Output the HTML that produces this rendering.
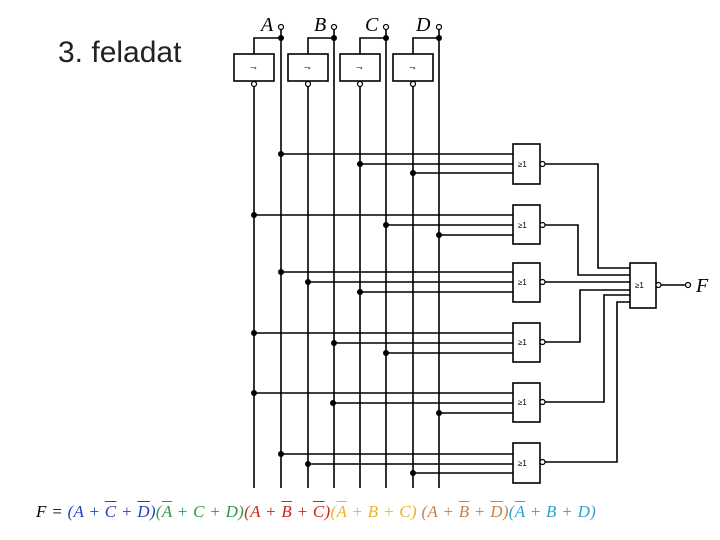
<!DOCTYPE html>
<html><head><meta charset="utf-8"><style>
body{margin:0;width:720px;height:540px;background:#fff;overflow:hidden;position:relative}
.t{position:absolute;left:58px;top:36px;font:30px "Liberation Sans",sans-serif;color:#222}
.eq{position:absolute;left:36px;top:502px;font:italic 17px "Liberation Serif",serif;white-space:nowrap;letter-spacing:0.3px}
.o{text-decoration:overline}
</style></head><body>
<div class="t">3. feladat</div>
<svg width="720" height="540" style="position:absolute;left:0;top:0" font-family="Liberation Serif,serif">
<g stroke="#000" stroke-width="1.6" fill="none">
<!-- inverters -->
<rect x="234" y="54" width="40" height="27"/><rect x="288" y="54" width="40" height="27"/>
<rect x="340" y="54" width="40" height="27"/><rect x="393" y="54" width="40" height="27"/>
<path d="M254 54V38H281M308 54V38H334M360 54V38H386M413 54V38H439"/>
<!-- verticals -->
<path d="M254 87V488M281 30V488M308 87V488M334 30V488M360 87V488M386 30V488M413 87V488M439 30V488"/>
<!-- gate inputs -->
<path d="M281 154H513M360 164H513M413 173H513
M254 215H513M386 225H513M439 235H513
M281 272H513M308 282H513M360 292H513
M254 333H513M334 343H513M386 353H513
M254 393H513M333 403H513M439 413H513
M281 454H513M308 464H513M413 473H513"/>
<!-- gates -->
<rect x="513" y="144" width="27" height="40"/><rect x="513" y="205" width="27" height="39"/>
<rect x="513" y="263" width="27" height="39"/><rect x="513" y="323" width="27" height="39"/>
<rect x="513" y="383" width="27" height="39"/><rect x="513" y="443" width="27" height="40"/>
<rect x="630" y="263" width="26" height="45"/>
<!-- outputs -->
<path d="M545 164H598V268H630M545 225H578V275H630M545 282H630M545 342H580V290H630M545 402H604V295H630M545 462H617V302H630M661 285H686"/>
</g>
<g stroke="#000" stroke-width="1.2" fill="#fff">
<circle cx="281" cy="27" r="2.5"/><circle cx="334" cy="27" r="2.5"/><circle cx="386" cy="27" r="2.5"/><circle cx="439" cy="27" r="2.5"/>
<circle cx="254" cy="84" r="2.5"/><circle cx="308" cy="84" r="2.5"/><circle cx="360" cy="84" r="2.5"/><circle cx="413" cy="84" r="2.5"/>
<circle cx="542.5" cy="164" r="2.5"/><circle cx="542.5" cy="225" r="2.5"/><circle cx="542.5" cy="282" r="2.5"/>
<circle cx="542.5" cy="342" r="2.5"/><circle cx="542.5" cy="402" r="2.5"/><circle cx="542.5" cy="462" r="2.5"/>
<circle cx="658.5" cy="285" r="2.5"/><circle cx="688" cy="285" r="2.5"/>
</g>
<g fill="#000">
<circle cx="281" cy="38" r="3"/><circle cx="334" cy="38" r="3"/><circle cx="386" cy="38" r="3"/><circle cx="439" cy="38" r="3"/>
<circle cx="281" cy="154" r="3"/><circle cx="360" cy="164" r="3"/><circle cx="413" cy="173" r="3"/>
<circle cx="254" cy="215" r="3"/><circle cx="386" cy="225" r="3"/><circle cx="439" cy="235" r="3"/>
<circle cx="281" cy="272" r="3"/><circle cx="308" cy="282" r="3"/><circle cx="360" cy="292" r="3"/>
<circle cx="254" cy="333" r="3"/><circle cx="334" cy="343" r="3"/><circle cx="386" cy="353" r="3"/>
<circle cx="254" cy="393" r="3"/><circle cx="333" cy="403" r="3"/><circle cx="439" cy="413" r="3"/>
<circle cx="281" cy="454" r="3"/><circle cx="308" cy="464" r="3"/><circle cx="413" cy="473" r="3"/>
</g>
<g font-size="20" font-style="italic">
<text x="261" y="31">A</text><text x="314" y="31">B</text><text x="365" y="31">C</text><text x="416" y="31">D</text>
<text x="696" y="292">F</text>
</g>
<g font-family="Liberation Sans,sans-serif" font-size="8">
<text x="250" y="70">⇁</text><text x="304" y="70">⇁</text><text x="356" y="70">⇁</text><text x="409" y="70">⇁</text>
<text x="518" y="167">≥1</text><text x="518" y="228">≥1</text><text x="518" y="285">≥1</text>
<text x="518" y="345">≥1</text><text x="518" y="405">≥1</text><text x="518" y="466">≥1</text>
<text x="635" y="288">≥1</text>
</g>
</svg>
<div class="eq">F = <span style="color:#2a40c0">(A + <span class="o">C</span> + <span class="o">D</span>)</span><span style="color:#2a9a40">(<span class="o">A</span> + C + D)</span><span style="color:#d02020">(A + <span class="o">B</span> + <span class="o">C</span>)</span><span style="color:#e8b428">(<span class="o">A</span> + B + C)</span> <span style="color:#c8804a">(A + <span class="o">B</span> + <span class="o">D</span>)</span><span style="color:#30a0d8">(<span class="o">A</span> + B + D)</span></div>
</body></html>
